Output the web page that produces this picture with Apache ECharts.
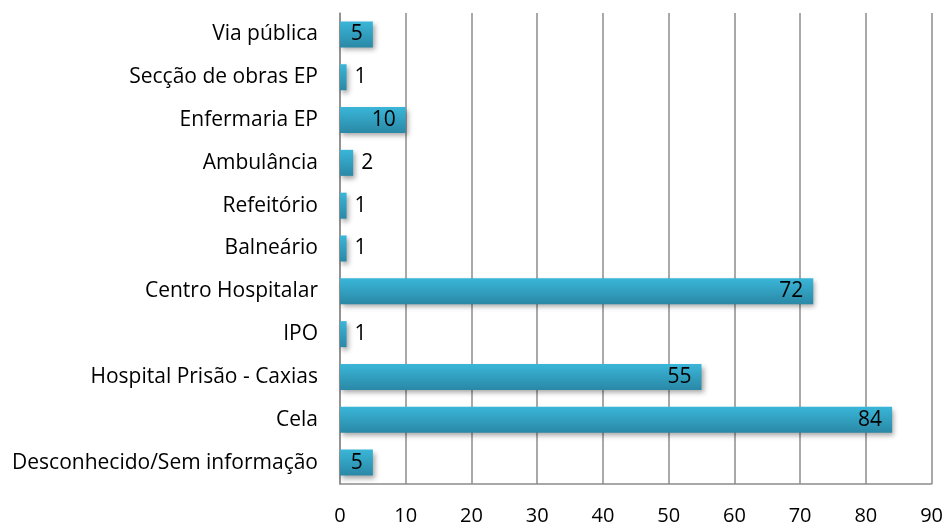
<!DOCTYPE html>
<html>
<head>
<meta charset="utf-8">
<script src="https://cdn.jsdelivr.net/npm/echarts@6/dist/echarts.min.js"></script>
<style>
html,body{margin:0;padding:0;background:#fff;}
#chart{width:946px;height:526px;}
</style>
</head>
<body>
<div id="chart"></div>
<script>
// categorias de baixo para cima
var categories = ['Desconhecido/Sem informação', 'Cela', 'Hospital Prisão - Caxias', 'IPO', 'Centro Hospitalar',
    'Balneário', 'Refeitório', 'Ambulância', 'Enfermaria EP', 'Secção de obras EP', 'Via pública'];
var values = [5, 84, 55, 1, 72, 1, 1, 2, 10, 1, 5];
var ticks = [0, 10, 20, 30, 40, 50, 60, 70, 80, 90];

var fontFam = 'Open Sans, sans-serif';

var barData = values.map(function (v) {
    return {
        value: v,
        label: { position: v >= 5 ? 'insideRight' : 'right', distance: v >= 5 ? 10 : 8 }
    };
});

var chart = echarts.init(document.getElementById('chart'));
chart.setOption({
    animation: false,
    grid: { left: 340, right: 14, top: 13, bottom: 39 },
    xAxis: {
        type: 'value',
        min: ticks[0],
        max: ticks[ticks.length - 1],
        interval: 10,
        axisLine: { show: true, lineStyle: { color: '#8c8c8c', width: 1.5 } },
        axisTick: { show: false },
        axisLabel: { color: '#000', fontSize: 20, fontFamily: fontFam, margin: 22 },
        splitLine: { show: true, lineStyle: { color: '#8c8c8c', width: 1.5 } }
    },
    yAxis: {
        type: 'category',
        data: categories,
        axisLine: { show: true, lineStyle: { color: '#8c8c8c', width: 1.5 } },
        axisTick: { show: false },
        axisLabel: { color: '#000', fontSize: 21, fontFamily: fontFam, margin: 22 }
    },
    series: [{
        type: 'bar',
        data: barData,
        barWidth: 26,
        itemStyle: {
            color: new echarts.graphic.LinearGradient(0, 0, 0, 1, [
                { offset: 0, color: '#3ab6d8' },
                { offset: 1, color: '#2a88a6' }
            ]),
            shadowColor: 'rgba(0,0,0,0.35)',
            shadowBlur: 5,
            shadowOffsetX: 2,
            shadowOffsetY: 3
        },
        label: {
            show: true,
            color: '#000',
            fontSize: 21,
            fontFamily: fontFam
        }
    }]
});
</script>
</body>
</html>
